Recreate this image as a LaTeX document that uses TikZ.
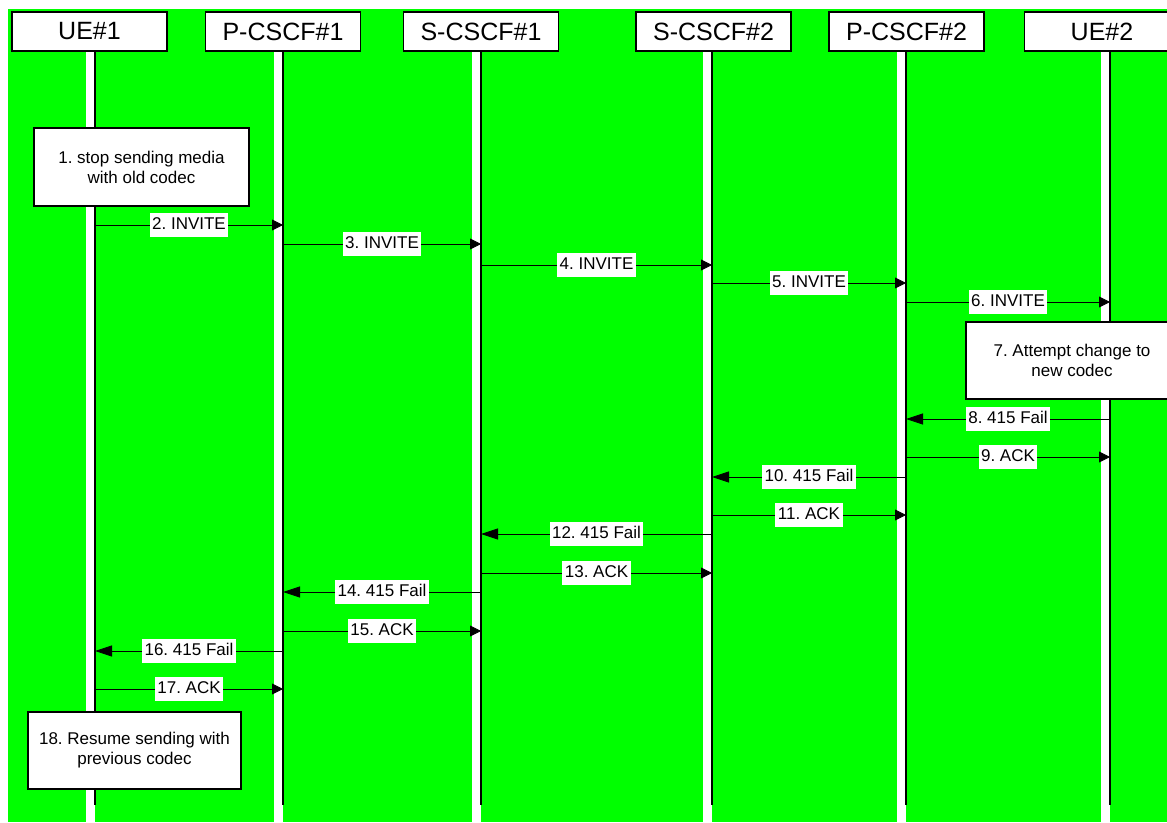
\documentclass[tikz,border=0pt]{standalone}
\usepackage{fontspec}
\setmainfont{Liberation Sans}
\usetikzlibrary{arrows.meta}
\definecolor{bggreen}{RGB}{0,255,0}
\tikzset{
  hdr/.style={draw, line width=1.2pt, fill=white, minimum width=155pt, minimum height=39pt, inner sep=0pt, font=\fontsize{25}{30}\selectfont},
  note/.style={draw, line width=1.2pt, fill=white, align=center, inner sep=0pt, font=\fontsize{17}{20}\selectfont},
  lbl/.style={fill=white, inner xsep=2.5pt, inner ysep=4pt, text height=12.5pt, text depth=3.5pt, font=\fontsize{17}{20}\selectfont},
  msgr/.style={line width=0.8pt, -{Triangle[length=11pt,width=11pt]}},
  msgl/.style={line width=0.8pt, -{Triangle[length=17pt,width=11pt]}},
  stripe/.style={fill=white},
  life/.style={line width=1.5pt}
}
\frenchspacing
\begin{document}
\frenchspacing
\begin{tikzpicture}[x=1pt,y=-1pt]
\useasboundingbox (0,0) rectangle (1167,822);
\fill[white] (0,0) rectangle (1167,822);
\clip (0,0) rectangle (1167,822);
\fill[bggreen] (8,9) rectangle (1167,822);
% lifeline coordinates
\coordinate (L1) at (95,0);
\coordinate (L2) at (283,0);
\coordinate (L3) at (481,0);
\coordinate (L4) at (712,0);
\coordinate (L5) at (906,0);
\coordinate (L6) at (1110,0);
\foreach \c in {L1,L2,L3,L4,L5,L6}{
  \fill[stripe] ([xshift=-9pt]\c |- 0,51) rectangle (\c |- 0,822);
  \draw[life] (\c |- 0,51) -- (\c |- 0,805);
}
% headers
\node[hdr] (h1) at (89.5,31.5) {UE\#1};
\node[hdr] (h2) at (283,31.5) {P-CSCF\#1};
\node[hdr] (h3) at (481,31.5) {S-CSCF\#1};
\node[hdr] (h4) at (713.5,31.5) {S-CSCF\#2};
\node[hdr] (h5) at (906.5,31.5) {P-CSCF\#2};
\node[hdr] (h6) at (1102,31.5) {UE\#2};
% notes
\node[note, minimum width=215pt, minimum height=78pt] (n1) at (141.5,167) {1. stop sending media\\with old codec};
\node[note, minimum width=212pt, minimum height=77pt] (n7) at (1072,360.5) {7. Attempt change to\\new codec};
\node[note, minimum width=213pt, minimum height=77pt] (n18) at (134.5,750.5) {18. Resume sending with\\previous codec};
% messages
\draw[msgr] (L1 |- 0,225) -- node[lbl]{2. INVITE} (L2 |- 0,225);
\draw[msgr] (L2 |- 0,244) -- node[lbl]{3. INVITE} (L3 |- 0,244);
\draw[msgr] (L3 |- 0,265) -- node[lbl]{4. INVITE} (L4 |- 0,265);
\draw[msgr] (L4 |- 0,283) -- node[lbl]{5. INVITE} (L5 |- 0,283);
\draw[msgr] (L5 |- 0,302) -- node[lbl]{6. INVITE} (L6 |- 0,302);
\draw[msgl] (L6 |- 0,419) -- node[lbl]{8. 415 Fail} (L5 |- 0,419);
\draw[msgr] (L5 |- 0,457) -- node[lbl]{9. ACK} (L6 |- 0,457);
\draw[msgl] (L5 |- 0,477) -- node[lbl]{10. 415 Fail} (L4 |- 0,477);
\draw[msgr] (L4 |- 0,515) -- node[lbl]{11. ACK} (L5 |- 0,515);
\draw[msgl] (L4 |- 0,534) -- node[lbl]{12. 415 Fail} (L3 |- 0,534);
\draw[msgr] (L3 |- 0,573) -- node[lbl]{13. ACK} (L4 |- 0,573);
\draw[msgl] (L3 |- 0,592) -- node[lbl]{14. 415 Fail} (L2 |- 0,592);
\draw[msgr] (L2 |- 0,631) -- node[lbl]{15. ACK} (L3 |- 0,631);
\draw[msgl] (L2 |- 0,651) -- node[lbl]{16. 415 Fail} (L1 |- 0,651);
\draw[msgr] (L1 |- 0,689) -- node[lbl]{17. ACK} (L2 |- 0,689);
\end{tikzpicture}
\end{document}
